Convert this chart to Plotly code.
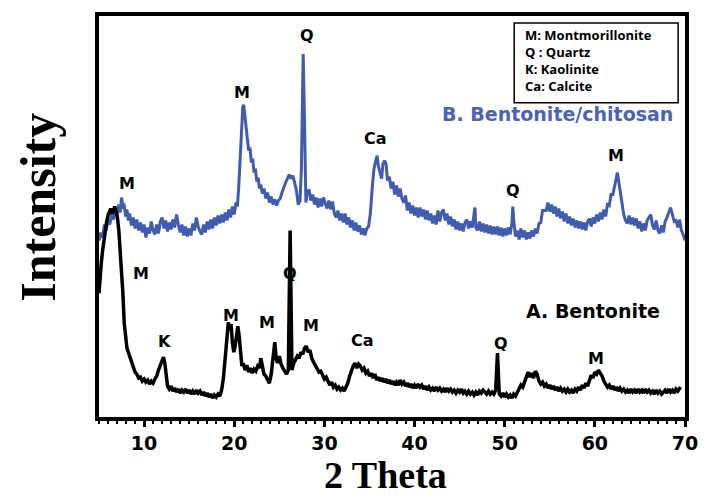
import plotly.graph_objects as go

# ---- data (2-theta, intensity in arbitrary units) ----
blue_x = [5.0,5.2,5.4,5.6,5.8,6.0,6.2,6.4,6.6,6.8,7.0,7.2,7.35,7.5,7.65,7.8,7.95,8.1,8.25,8.4,8.6,8.8,9.0,9.2,9.4,9.6,9.8,10.0,10.2,10.4,10.6,10.8,11.0,11.2,11.4,11.6,11.8,12.0,12.2,12.4,12.6,12.8,13.0,13.2,13.4,13.6,13.8,14.0,14.2,14.4,14.6,14.8,15.0,15.2,15.4,15.6,15.8,16.0,16.2,16.4,16.6,16.8,17.0,17.2,17.4,17.6,17.8,18.0,18.2,18.4,18.6,18.8,19.0,19.2,19.4,19.6,19.8,20.0,20.2,20.35,20.5,20.65,20.8,20.95,21.05,21.15,21.3,21.45,21.6,21.75,21.9,22.05,22.2,22.35,22.5,22.65,22.8,22.95,23.1,23.3,23.5,23.7,23.9,24.1,24.3,24.5,24.7,24.9,25.1,25.3,25.5,25.7,25.9,26.1,26.3,26.5,26.7,26.9,27.1,27.3,27.45,27.55,27.65,27.75,27.85,27.95,28.1,28.3,28.5,28.7,28.9,29.1,29.3,29.5,29.7,29.9,30.1,30.3,30.5,30.7,30.9,31.1,31.3,31.5,31.7,31.9,32.1,32.3,32.5,32.7,32.9,33.1,33.3,33.5,33.7,33.9,34.1,34.3,34.5,34.7,34.9,35.1,35.3,35.5,35.7,35.85,36.0,36.2,36.35,36.5,36.7,36.85,37.0,37.2,37.4,37.6,37.8,38.0,38.2,38.4,38.6,38.8,39.0,39.2,39.4,39.6,39.8,40.0,40.2,40.4,40.6,40.8,41.0,41.2,41.4,41.6,41.8,42.0,42.2,42.4,42.6,42.8,43.0,43.2,43.4,43.6,43.8,44.0,44.2,44.4,44.6,44.8,45.0,45.2,45.4,45.6,45.8,46.0,46.2,46.4,46.6,46.7,46.8,47.0,47.2,47.4,47.6,47.8,48.0,48.2,48.4,48.6,48.8,49.0,49.2,49.4,49.6,49.8,50.0,50.2,50.4,50.6,50.8,50.9,51.0,51.2,51.4,51.6,51.8,52.0,52.2,52.4,52.6,52.8,53.0,53.2,53.4,53.6,53.8,54.0,54.2,54.4,54.6,54.8,55.0,55.2,55.4,55.6,55.8,56.0,56.2,56.4,56.6,56.8,57.0,57.2,57.4,57.6,57.8,58.0,58.2,58.4,58.6,58.8,59.0,59.2,59.4,59.6,59.8,60.0,60.2,60.4,60.6,60.8,61.0,61.2,61.4,61.6,61.8,62.0,62.2,62.4,62.5,62.6,62.8,63.0,63.2,63.4,63.6,63.8,64.0,64.2,64.4,64.6,64.8,65.0,65.2,65.4,65.6,65.8,66.0,66.2,66.4,66.6,66.8,67.0,67.2,67.4,67.6,67.8,68.0,68.2,68.4,68.6,68.8,69.0,69.2,69.4,69.6,69.8,70.0]
blue_y = [178,186,181,194,188,199,194,204,199,209,203,214,206,221,212,213,202,209,198,205,193,201,190,199,188,196,186,194,181,191,185,197,188,184,194,185,197,201,190,198,187,196,189,199,191,204,194,186,194,183,192,182,190,183,195,188,201,192,187,184,194,186,197,189,199,190,201,193,203,195,204,196,206,198,209,201,212,204,216,212,232,262,293,312,314,305,288,280,268,271,256,260,246,250,237,241,230,234,225,230,220,226,216,222,214,219,213,218,220,226,232,236,240,244,240,243,236,228,214,218,250,330,365,320,245,216,226,229,218,224,214,221,211,220,212,221,215,210,218,209,217,205,201,208,198,205,196,205,194,201,191,198,188,196,187,193,184,190,183,190,192,205,230,250,258,263,252,245,240,255,258,254,238,242,230,237,224,233,222,230,220,216,223,208,216,205,213,203,211,201,211,202,209,199,208,198,205,195,203,194,208,197,206,209,198,205,194,202,192,199,189,197,188,195,187,196,199,190,197,191,202,211,191,188,197,187,195,186,194,185,193,184,192,184,192,183,191,182,190,183,191,184,195,212,198,182,188,179,190,181,188,179,186,180,188,182,190,185,195,196,208,208,208,216,207,214,205,212,202,210,200,207,197,205,195,202,193,200,191,198,190,197,189,196,188,197,200,192,201,195,204,197,206,199,209,202,214,213,224,224,234,242,246,240,228,218,204,198,195,203,194,201,193,200,190,197,187,195,188,198,201,204,193,189,198,188,185,193,186,197,201,207,211,204,197,198,191,199,188,184,178]

black_x = [5.0,5.1,5.25,5.4,5.55,5.7,5.85,6.0,6.15,6.3,6.45,6.6,6.75,6.9,7.05,7.2,7.35,7.5,7.65,7.8,7.95,8.1,8.25,8.4,8.55,8.7,8.85,9.0,9.2,9.4,9.6,9.8,10.0,10.2,10.4,10.6,10.8,11.0,11.2,11.4,11.6,11.8,12.0,12.15,12.3,12.45,12.6,12.8,13.0,13.2,13.4,13.6,13.8,14.0,14.2,14.4,14.6,14.8,15.0,15.2,15.4,15.6,15.8,16.0,16.2,16.4,16.6,16.8,17.0,17.2,17.4,17.6,17.8,18.0,18.2,18.4,18.6,18.8,19.0,19.2,19.35,19.5,19.65,19.8,19.95,20.1,20.25,20.4,20.55,20.7,20.85,21.0,21.2,21.4,21.6,21.8,22.0,22.2,22.4,22.6,22.8,22.95,23.1,23.3,23.5,23.7,23.9,24.1,24.3,24.5,24.65,24.8,25.0,25.2,25.4,25.6,25.8,26.0,26.1,26.2,26.3,26.4,26.6,26.8,27.0,27.2,27.4,27.6,27.8,28.0,28.2,28.4,28.6,28.8,29.0,29.2,29.4,29.6,29.8,30.0,30.2,30.4,30.6,30.8,31.0,31.2,31.4,31.6,31.8,32.0,32.2,32.4,32.6,32.8,33.0,33.2,33.4,33.6,33.8,34.0,34.2,34.4,34.6,34.8,35.0,35.2,35.4,35.6,35.8,36.0,36.2,36.4,36.6,36.8,37.0,37.2,37.4,37.6,37.8,38.0,38.2,38.4,38.6,38.8,39.0,39.2,39.4,39.6,39.8,40.0,40.2,40.4,40.6,40.8,41.0,41.2,41.4,41.6,41.8,42.0,42.2,42.4,42.6,42.8,43.0,43.2,43.4,43.6,43.8,44.0,44.2,44.4,44.6,44.8,45.0,45.2,45.4,45.6,45.8,46.0,46.2,46.4,46.6,46.8,47.0,47.2,47.4,47.6,47.8,48.0,48.2,48.4,48.6,48.8,49.0,49.1,49.2,49.3,49.4,49.6,49.8,50.0,50.2,50.4,50.6,50.8,51.0,51.2,51.4,51.6,51.8,52.0,52.2,52.4,52.6,52.8,53.0,53.2,53.4,53.6,53.8,54.0,54.2,54.4,54.6,54.8,55.0,55.2,55.4,55.6,55.8,56.0,56.2,56.4,56.6,56.8,57.0,57.2,57.4,57.6,57.8,58.0,58.2,58.4,58.6,58.8,59.0,59.2,59.4,59.6,59.8,60.0,60.2,60.4,60.6,60.8,61.0,61.2,61.4,61.6,61.8,62.0,62.2,62.4,62.6,62.8,63.0,63.2,63.4,63.6,63.8,64.0,64.2,64.4,64.6,64.8,65.0,65.2,65.4,65.6,65.8,66.0,66.2,66.4,66.6,66.8,67.0,67.2,67.4,67.6,67.8,68.0,68.2,68.4,68.6,68.8,69.0,69.2,69.5]
black_y = [125,140,155,168,180,190,197,203,208,210,205,208,212,207,200,188,170,150,125,95,78,70,66,62,57,54,50,46,44,40,41,37,39,36,38,34,37,35,39,42,48,53,57,61,55,40,32,29,32,27,30,26,29,25,28,26,29,25,28,24,27,24,28,25,27,23,26,22,25,21,24,20,23,21,24,22,28,40,62,85,96,88,94,75,66,72,86,92,82,62,52,55,48,53,46,50,45,49,47,52,50,60,52,44,42,38,35,44,58,76,60,55,62,54,50,47,44,48,120,188,120,48,55,58,62,60,66,64,70,72,66,68,60,56,52,50,46,47,42,39,41,36,33,36,31,33,29,31,28,30,27,31,35,42,48,52,55,50,54,52,48,50,45,47,42,45,40,44,38,41,37,40,36,39,35,38,34,37,33,36,33,38,34,36,32,35,31,34,30,33,30,34,31,33,29,32,28,31,28,30,27,31,28,30,27,29,26,30,27,29,26,28,25,28,26,29,25,27,24,27,24,26,23,26,23,27,25,28,26,24,27,24,26,24,28,50,65,45,24,22,25,21,24,21,23,20,24,22,26,28,33,31,37,42,46,41,45,40,47,44,37,34,36,32,34,30,33,29,32,28,31,27,30,27,29,26,29,26,28,25,29,27,31,28,33,30,35,32,38,43,40,46,44,48,45,42,37,34,31,33,29,32,28,31,27,30,27,29,26,28,25,29,26,28,25,29,26,28,25,29,26,28,25,27,24,28,25,27,24,26,28,25,29,26,28,25,29,27,31]

x_ticks = [10, 20, 30, 40, 50, 60, 70]

blue_labels = ["M", "M", "Q", "Ca", "Q", "M"]
blue_lab_x = [8.05, 20.9, 28.08, 35.7, 50.95, 62.38]
blue_lab_y = [235, 326, 383, 280, 228, 263]

black_labels = ["M", "K", "M", "M", "Q", "M", "Ca", "Q", "M"]
black_lab_x = [9.68, 12.3, 19.59, 23.62, 26.23, 28.52, 34.18, 49.64, 60.09]
black_lab_y = [145, 77, 103, 96, 145, 93, 78, 75, 60]

legend_lines = ["M: Montmorillonite", "Q : Quartz", "K: Kaolinite", "Ca: Calcite"]

BLUE = "#3F5CB0"

fig = go.Figure()
fig.add_trace(go.Scatter(x=blue_x, y=blue_y, mode="lines",
                         line=dict(color=BLUE, width=3), showlegend=False))
fig.add_trace(go.Scatter(x=black_x, y=black_y, mode="lines",
                         line=dict(color="black", width=3.5), showlegend=False))

lab_font = dict(family="DejaVu Sans", size=16, color="black")
for t, x, y in zip(blue_labels, blue_lab_x, blue_lab_y):
    fig.add_annotation(x=x, y=y, text="<b>%s</b>" % t, showarrow=False, font=lab_font)
for t, x, y in zip(black_labels, black_lab_x, black_lab_y):
    fig.add_annotation(x=x, y=y, text="<b>%s</b>" % t, showarrow=False, font=lab_font)

fig.add_annotation(x=55.85, y=305, text="<b>B. Bentonite/chitosan</b>", showarrow=False,
                   font=dict(family="DejaVu Sans", size=19, color="#4A63B8"))
fig.add_annotation(x=59.77, y=107, text="<b>A. Bentonite</b>", showarrow=False,
                   font=dict(family="DejaVu Sans", size=19, color="black"))

# legend box
fig.add_shape(type="rect", xref="paper", yref="paper", x0=0.7085, x1=0.9883,
              y0=0.7836, y1=0.9826, line=dict(color="black", width=1.5))
fig.add_annotation(xref="paper", yref="paper", x=0.7236, y=0.888, xanchor="left",
                   yanchor="middle", align="left", showarrow=False,
                   text="<br>".join("<b>%s</b>" % s for s in legend_lines),
                   font=dict(family="Open Sans", size=13, color="black"))

# axis titles
fig.add_annotation(xref="paper", yref="paper", x=-0.104, y=0.522, textangle=-90,
                   xanchor="center", yanchor="middle",
                   text="<b>Intensity</b>", showarrow=False,
                   font=dict(family="Liberation Serif", size=50, color="black"))
fig.add_annotation(xref="paper", yref="paper", x=0.489, y=-0.1443,
                   xanchor="center", yanchor="middle",
                   text="<b>2 Theta</b>", showarrow=False,
                   font=dict(family="Liberation Serif", size=38, color="black"))

fig.update_xaxes(range=[5, 70], tickvals=x_ticks, ticktext=[str(v) for v in x_ticks],
                 ticks="outside", ticklen=6, tickwidth=2.5, tickcolor="black",
                 showline=True, linewidth=4, linecolor="black", mirror=True,
                 showgrid=False, zeroline=False,
                 tickfont=dict(family="DejaVu Sans", size=19, color="black", weight="bold"),
                 minor=dict(ticks="outside", dtick=1, ticklen=3, tickwidth=2, tickcolor="black"))
fig.update_yaxes(range=[1, 403], showticklabels=False, ticks="",
                 showline=True, linewidth=4, linecolor="black", mirror=True,
                 showgrid=False, zeroline=False)

fig.update_layout(width=710, height=500, margin=dict(l=99, r=14, t=15, b=83),
                  plot_bgcolor="white", paper_bgcolor="white")

fig.write_html("out.html")
